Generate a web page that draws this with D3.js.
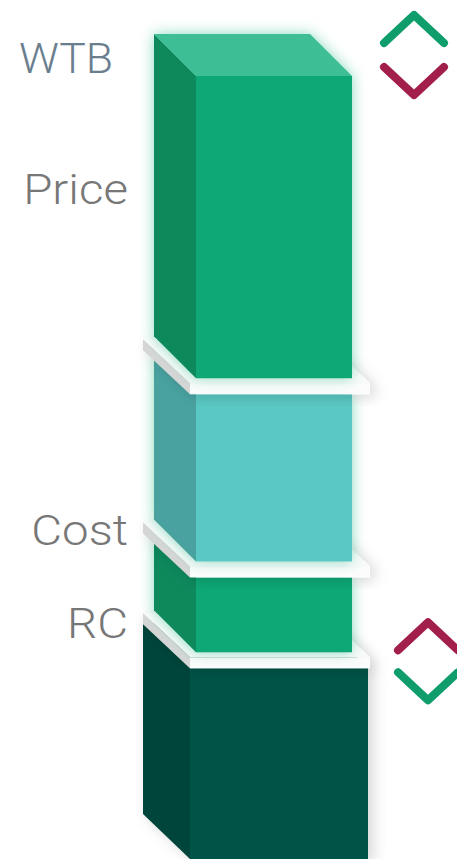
<!DOCTYPE html>
<html>
<head>
<meta charset="utf-8">
<script src="https://cdn.jsdelivr.net/npm/d3@7"></script>
<style>
  html, body { margin: 0; padding: 0; background: #ffffff; }
  svg { display: block; }
  text { font-family: Roboto, "Noto Sans", sans-serif; }
</style>
</head>
<body>
<script>
// ---- data ----
const levels = ["WTB", "Price", "Cost", "RC"];
const levelValues = [100, 61.4, 38, 26.4];
const baseValue = 0;
const labelValues = [100.4, 83.7, 40.1, 28.2];
const segments = ["WTB-Price", "Price-Cost", "Cost-RC", "RC-base"];
const chevronLevels = ["WTB", "RC"];

// ---- layout ----
const W = 457, H = 859;
const y = d3.scaleLinear().domain([0, 100]).range([859, 76]);
const svg = d3.select("body").append("svg").attr("width", W).attr("height", H);

const defs = svg.append("defs");
function glow(id, color, opacity, sd, dx, dy) {
  const f = defs.append("filter").attr("id", id)
    .attr("x", "-40%").attr("y", "-20%").attr("width", "180%").attr("height", "140%");
  f.append("feGaussianBlur").attr("in", "SourceAlpha").attr("stdDeviation", sd).attr("result", "b");
  f.append("feOffset").attr("in", "b").attr("dx", dx).attr("dy", dy).attr("result", "o");
  f.append("feFlood").attr("flood-color", color).attr("flood-opacity", opacity);
  f.append("feComposite").attr("in2", "o").attr("operator", "in").attr("result", "s");
  const m = f.append("feMerge");
  m.append("feMergeNode").attr("in", "s");
  m.append("feMergeNode").attr("in", "SourceGraphic");
}
glow("greenGlow", "#3cc096", 0.6, 7, 0, 0);
glow("grayShadow", "#000000", 0.16, 7, 5, 3);

const palette = {
  "WTB-Price": { front: "#0aa875", side: "#07895b", top: "#3cbe94" },
  "Price-Cost": { front: "#5ac8c4", side: "#48a2a0", top: "#7fd6d3" },
  "Cost-RC": { front: "#0aa875", side: "#07895b", top: "#3cbe94" },
  "RC-base": { front: "#025246", side: "#01443a", top: "#0a6a5a" }
};

function box(g, x0, x1, yTop, yBot, dx, dy, c, showTop) {
  g.append("polygon")
    .attr("points", [[x0 - dx, yTop - dy], [x0, yTop], [x0, yBot], [x0 - dx, yBot - dy]].join(" "))
    .attr("fill", c.side);
  g.append("rect").attr("x", x0).attr("y", yTop).attr("width", x1 - x0).attr("height", yBot - yTop)
    .attr("fill", c.front);
  if (showTop) {
    g.append("polygon")
      .attr("points", [[x0 - dx, yTop - dy], [x1 - dx, yTop - dy], [x1, yTop], [x0, yTop]].join(" "))
      .attr("fill", c.top);
  }
}

const slabT = 16;
function slab(g, b) {
  const x0 = 190, x1 = 370, dx = 47, dy = 44, off = 5;
  const sg = g.append("g").attr("filter", "url(#grayShadow)");
  sg.append("polygon")
    .attr("points", [[x0 - dx, b + off - dy], [x1 - dx, b + off - dy], [x1, b + off], [x0, b + off]].join(" "))
    .attr("fill", "#fbfbfb");
  sg.append("rect").attr("x", x0).attr("y", b + off).attr("width", x1 - x0).attr("height", slabT - off)
    .attr("fill", "#fcfcfc");
  sg.append("polygon")
    .attr("points", [[x0 - dx, b + off - dy], [x0, b + off], [x0, b + slabT], [x0 - dx, b + slabT - dy]].join(" "))
    .attr("fill", "#d6d6d6");
}

const stack = svg.append("g");
const bounds = levelValues.concat([baseValue]); // top-down

const last = segments.length - 1;
const darkG = stack.append("g").attr("filter", "url(#grayShadow)");
box(darkG, 190, 368, y(bounds[last]) + slabT, y(bounds[last + 1]), 47, 45, palette[segments[last]], true);

for (let i = last - 1; i >= 0; i--) {
  slab(stack, y(bounds[i + 1]));
  const gg = stack.append("g").attr("filter", "url(#greenGlow)");
  box(gg, 196, 352, i === 0 ? y(bounds[i]) : y(bounds[i]) + slabT, y(bounds[i + 1]), 42, 42,
      palette[segments[i]], i === 0);
}

// labels
const labelG = svg.append("g");
levels.forEach((name, i) => {
  const isWTB = name === "WTB";
  const x = isWTB ? 19 : 128;
  labelG.append("text")
    .attr("transform", `translate(${x},${y(labelValues[i])}) scale(${isWTB ? 1.06 : 1.13},1)`)
    .attr("text-anchor", isWTB ? "start" : "end")
    .attr("font-size", 42)
    .attr("font-weight", 300)
    .attr("fill", isWTB ? "#6a7e8e" : "#777777")
    .text(name);
});

// chevrons
const green = "#0f9d6c", red = "#a21f4c";
function chevron(cx, cy, dir, color) {
  const p = d3.path();
  if (dir === "up") { p.moveTo(cx - 30, cy + 14); p.lineTo(cx, cy - 14); p.lineTo(cx + 30, cy + 14); }
  else { p.moveTo(cx - 30, cy - 14); p.lineTo(cx, cy + 14); p.lineTo(cx + 30, cy - 14); }
  svg.append("path").attr("d", p.toString()).attr("fill", "none").attr("stroke", color)
    .attr("stroke-width", 8).attr("stroke-linecap", "round").attr("stroke-linejoin", "round");
}
chevronLevels.forEach(name => {
  const v = levelValues[levels.indexOf(name)];
  if (name === "WTB") {
    const cy = y(v) - 21;
    chevron(414, cy - 26, "up", green);
    chevron(414, cy + 26, "down", red);
  } else {
    const cy = y(v) + 9;
    chevron(428, cy - 25, "up", red);
    chevron(428, cy + 25, "down", green);
  }
});
</script>
</body>
</html>
